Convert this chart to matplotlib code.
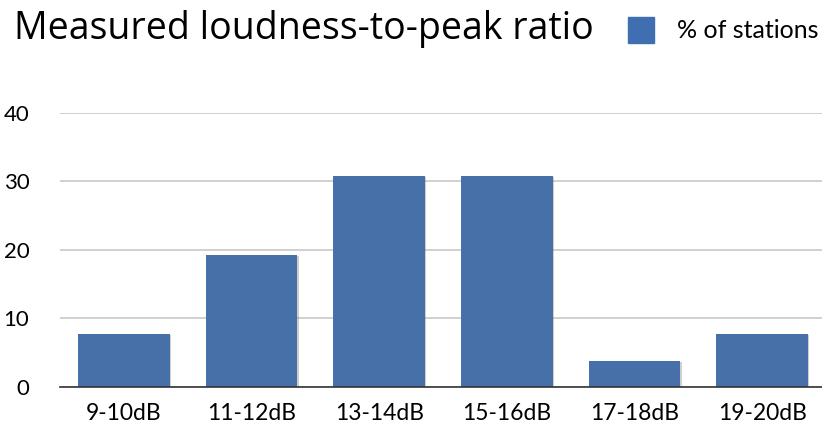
import matplotlib
matplotlib.use("Agg")
import matplotlib.pyplot as plt
import matplotlib.patheffects as pe
from matplotlib.patches import Rectangle

# data
categories = ["9-10dB", "11-12dB", "13-14dB", "15-16dB", "17-18dB", "19-20dB"]
pct_stations = [7.7, 19.2, 30.8, 30.8, 3.8, 7.7]
y_ticks = [0, 10, 20, 30, 40]

bar_color = "#4870a8"

fig = plt.figure(figsize=(8.22, 4.28), dpi=100)
ax = fig.add_axes([60 / 822, 1 - 386.7 / 428, 766 / 822, (386.7 - 113) / 428])

x = list(range(len(categories)))
bars = ax.bar(x, pct_stations, width=0.72, color=bar_color, zorder=3)
for b in bars:
    b.set_path_effects([pe.SimplePatchShadow(offset=(0.8, -0.8), shadow_rgbFace="#777777", alpha=0.35),
                        pe.Normal()])

ax.set_xlim(-0.5, len(categories) - 0.5)
ax.set_ylim(0, 40)
ax.set_yticks(y_ticks)
ax.set_xticks(x)
ax.set_xticklabels(categories, fontsize=16.5, family="Lato")
ax.set_yticklabels([str(t) for t in y_ticks], fontsize=16, family="Lato")
ax.tick_params(axis="both", length=0, colors="black")
ax.tick_params(axis="y", pad=22)
ax.tick_params(axis="x", pad=12)

ax.yaxis.grid(True, color="#c8c8c8", linewidth=1.2, zorder=0)
ax.set_axisbelow(True)
for s in ["top", "right", "left"]:
    ax.spines[s].set_visible(False)
ax.spines["bottom"].set_color("#333333")
ax.spines["bottom"].set_linewidth(1.2)
ax.spines["bottom"].set_zorder(4)

# title
fig.text(14 / 822, 1 - 10 / 428, "Measured loudness-to-peak ratio", fontsize=27,
         family="Open Sans", ha="left", va="top")

# legend
fig.patches.append(Rectangle((628 / 822, 1 - 43 / 428), 26 / 822, 26 / 428,
                             transform=fig.transFigure, color="#3f6fb0", figure=fig))
fig.text(677 / 822, 1 - 31 / 428, "% of stations", fontsize=18, family="Lato",
         ha="left", va="center")

fig.savefig("out.png", dpi=100)
